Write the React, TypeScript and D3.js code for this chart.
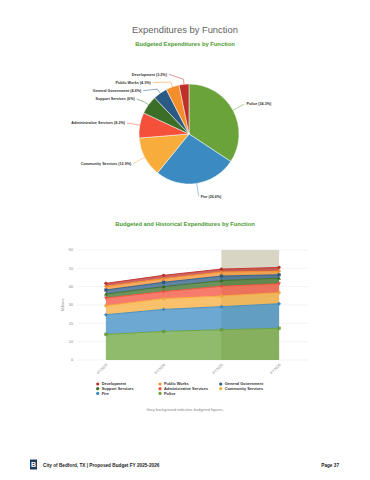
import React from "react";
import * as d3 from "d3";

const W = 370;
const H = 480;

// ---- Pie data (budgeted FY2026 share, %) ----
const pieNames = ["Police", "Fire", "Community Services", "Administrative Services", "Support Services", "General Government", "Public Works", "Development"];
const pieValues = [34.3, 26.6, 12.9, 8.2, 6, 4.6, 4.3, 3.2];
const pieColors = ["#6ba33b", "#3b8bc2", "#f7ac3b", "#f4503a", "#3b6e26", "#2b5a84", "#f48e2a", "#c0302b"];

// ---- Stacked area data (millions) ----
const categories = ["FY2023", "FY2024", "FY2025", "FY2026"];
const seriesNames = ["Development", "Public Works", "General Government", "Support Services", "Administrative Services", "Community Services", "Fire", "Police"];
const seriesColors = ["#c0302b", "#f48e2a", "#2b5a84", "#3b6e26", "#f4503a", "#f7ac3b", "#3b8bc2", "#6ba33b"];
const seriesSymbols = ["circle", "diamond", "square", "triangle", "triangle-down", "circle", "diamond", "square"];
const development = [1.6, 1.8, 1.6, 2.0];
const publicWorks = [2.0, 2.0, 2.2, 2.0];
const generalGovernment = [2.2, 2.4, 2.5, 1.8];
const supportServices = [2.2, 2.7, 3.1, 3.1];
const administrativeServices = [4.2, 3.8, 5.3, 4.9];
const communityServices = [4.9, 5.9, 5.8, 6.0];
const fire = [10.7, 12.0, 12.6, 13.4];
const police = [14.0, 15.6, 16.5, 17.3];
const seriesValues = [development, publicWorks, generalGovernment, supportServices, administrativeServices, communityServices, fire, police];
const yTicks = [0, 10, 20, 30, 40, 50, 60];
const budgetedCategories = ["FY2025", "FY2026"];

const FONT = "'Liberation Sans', Arial, sans-serif";

function symbolPath(kind: string, x: number, y: number, r: number) {
  switch (kind) {
    case "square":
      return `M${x - r},${y - r}h${2 * r}v${2 * r}h${-2 * r}Z`;
    case "diamond":
      return `M${x},${y - r * 1.2}L${x + r * 1.2},${y}L${x},${y + r * 1.2}L${x - r * 1.2},${y}Z`;
    case "triangle":
      return `M${x},${y - r * 1.1}L${x + r * 1.1},${y + r}L${x - r * 1.1},${y + r}Z`;
    case "triangle-down":
      return `M${x},${y + r * 1.1}L${x + r * 1.1},${y - r}L${x - r * 1.1},${y - r}Z`;
    default:
      return `M${x - r},${y}a${r},${r} 0 1,0 ${2 * r},0a${r},${r} 0 1,0 ${-2 * r},0`;
  }
}

function PieChart() {
  const cx = 189, cy = 134, r = 50, R = 63;
  const arcs = d3.pie<number>().sort(null).startAngle(0).endAngle(2 * Math.PI)(pieValues);
  const arcGen = d3.arc<d3.PieArcDatum<number>>().innerRadius(0).outerRadius(r);

  const items = arcs.map((a, i) => {
    const mid = (a.startAngle + a.endAngle) / 2;
    return {
      i,
      mid,
      side: Math.sin(mid) >= 0 ? 1 : -1,
      y: cy - R * Math.cos(mid),
    };
  });
  const minGap = 8.2;
  [1, -1].forEach((side) => {
    const group = items.filter((d) => d.side === side).sort((a, b) => a.y - b.y);
    let prev = -Infinity;
    group.forEach((d, k) => {
      let y = d.y;
      if (k === 0 && side === -1) y = Math.max(y, 74.3);
      y = Math.max(y, prev + minGap);
      d.y = y;
      prev = y;
    });
  });

  return (
    <g>
      {arcs.map((a, i) => (
        <path key={i} d={arcGen(a) as string} transform={`translate(${cx},${cy})`} fill={pieColors[i]} stroke="#fff" strokeWidth={0.5} />
      ))}
      {items.map((d) => {
        const dy = Math.max(-R + 0.5, Math.min(R - 0.5, d.y - cy));
        const lx = cx + d.side * Math.sqrt(R * R - dy * dy);
        const ex = cx + r * Math.sin(d.mid);
        const ey = cy - r * Math.cos(d.mid);
        const bx = cx + (r + 5) * Math.sin(d.mid);
        const by = cy - (r + 5) * Math.cos(d.mid);
        const tx = lx + d.side * 2;
        const label = `${pieNames[d.i]} (${pieValues[d.i]}%)`;
        return (
          <g key={d.i}>
            <polyline points={`${ex},${ey} ${bx},${by} ${lx},${d.y}`} fill="none" stroke={pieColors[d.i]} strokeWidth={0.5} />
            <text x={tx} y={d.y + 1.3} fontSize={3.7} fontWeight={600} fill="#333" fontFamily={FONT} textAnchor={d.side > 0 ? "start" : "end"}>
              {label}
            </text>
          </g>
        );
      })}
    </g>
  );
}

function AreaChart() {
  const left = 77, right = 308, top = 250, bottom = 360;
  const band = d3.scaleBand<string>().domain(categories).range([left, right]);
  const xc = (c: string) => (band(c) as number) + band.bandwidth() / 2;
  const y = d3.scaleLinear().domain([0, 60]).range([bottom, top]);

  const rows = categories.map((c, ci) => {
    const row: Record<string, number | string> = { cat: c };
    seriesNames.forEach((n, si) => (row[n] = seriesValues[si][ci]));
    return row;
  });
  const keysBottomFirst = [...seriesNames].reverse();
  const stacked = d3.stack<Record<string, number | string>>().keys(keysBottomFirst)(rows as any);

  const area = d3
    .area<d3.SeriesPoint<Record<string, number | string>>>()
    .x((d) => xc(d.data.cat as string))
    .y0((d) => y(d[0]))
    .y1((d) => y(d[1]));
  const line = d3
    .line<d3.SeriesPoint<Record<string, number | string>>>()
    .x((d) => xc(d.data.cat as string))
    .y((d) => y(d[1]));

  const bx0 = xc(budgetedCategories[0]);
  const bx1 = xc(budgetedCategories[budgetedCategories.length - 1]);

  return (
    <g fontFamily={FONT}>
      {yTicks.map((t) => (
        <g key={t}>
          <line x1={left} x2={right} y1={y(t)} y2={y(t)} stroke="#ebebeb" strokeWidth={0.6} />
          <text x={73} y={y(t) + 1.3} fontSize={3.8} fill="#888" textAnchor="end">
            {t}
          </text>
        </g>
      ))}
      <text transform={`translate(64,${(top + bottom) / 2}) rotate(-90)`} fontSize={3.8} fill="#888" textAnchor="middle">
        Millions
      </text>
      <rect x={bx0} y={y(60)} width={bx1 - bx0} height={y(0) - y(60)} fill="#d8d5c4" />
      {stacked.map((s) => {
        const si = seriesNames.indexOf(s.key);
        return <path key={s.key} d={area(s) as string} fill={seriesColors[si]} fillOpacity={0.75} />;
      })}
      {stacked.map((s) => {
        const si = seriesNames.indexOf(s.key);
        return <path key={s.key + "l"} d={line(s) as string} fill="none" stroke={seriesColors[si]} strokeWidth={0.9} />;
      })}
      {stacked.map((s) => {
        const si = seriesNames.indexOf(s.key);
        return s.map((d, k) => (
          <path key={s.key + k} d={symbolPath(seriesSymbols[si], xc(d.data.cat as string), y(d[1]), 1.4)} fill={seriesColors[si]} stroke={d3.color(seriesColors[si])!.darker(0.6).formatHex()} strokeWidth={0.3} />
        ));
      })}
      {categories.map((c) => (
        <text key={c} transform={`translate(${xc(c) + 2},${bottom + 5}) rotate(-45)`} fontSize={3.8} fill="#888" textAnchor="end">
          {c}
        </text>
      ))}
      {seriesNames.map((n, i) => {
        const col = i % 3;
        const row = Math.floor(i / 3);
        const lx = [97.7, 160, 220.7][col];
        const ly = 384 + row * 4.7;
        return (
          <g key={n}>
            <circle cx={lx} cy={ly} r={1.6} fill={seriesColors[i]} />
            <text x={lx + 4} y={ly + 1.4} fontSize={3.9} fontWeight={600} fill="#333">
              {n}
            </text>
          </g>
        );
      })}
      <text x={185} y={410.5} fontSize={3.9} fill="#888" textAnchor="middle">
        Grey background indicates budgeted figures.
      </text>
    </g>
  );
}

export default function App() {
  return (
    <svg width={W} height={H} viewBox={`0 0 ${W} ${H}`} style={{ position: "absolute", left: 0, top: 0, background: "#fff" }}>
      <rect width={W} height={H} fill="#fff" />
      <text x={185} y={33} fontSize={9.4} fontWeight={400} fill="#5f5f5f" textAnchor="middle" fontFamily={FONT}>
        Expenditures by Function
      </text>
      <text x={185} y={45.8} fontSize={5.8} fontWeight={700} fill="#4a9a2f" textAnchor="middle" fontFamily={FONT}>
        Budgeted Expenditures by Function
      </text>
      <PieChart />
      <text x={185} y={226} fontSize={5.8} fontWeight={700} fill="#4a9a2f" textAnchor="middle" fontFamily={FONT}>
        Budgeted and Historical Expenditures by Function
      </text>
      <AreaChart />
      <rect x={30} y={459.5} width={7} height={10} fill="#1e3a5f" />
      <text x={33.5} y={467.3} fontSize={7} fontWeight={700} fill="#fff" textAnchor="middle" fontFamily={FONT}>
        B
      </text>
      <text x={43} y={466.5} fontSize={4.7} fontWeight={600} fill="#222" fontFamily={FONT}>
        City of Bedford, TX | Proposed Budget FY 2025-2026
      </text>
      <text x={339} y={466.5} fontSize={4.7} fontWeight={600} fill="#222" textAnchor="end" fontFamily={FONT}>
        Page 37
      </text>
    </svg>
  );
}
